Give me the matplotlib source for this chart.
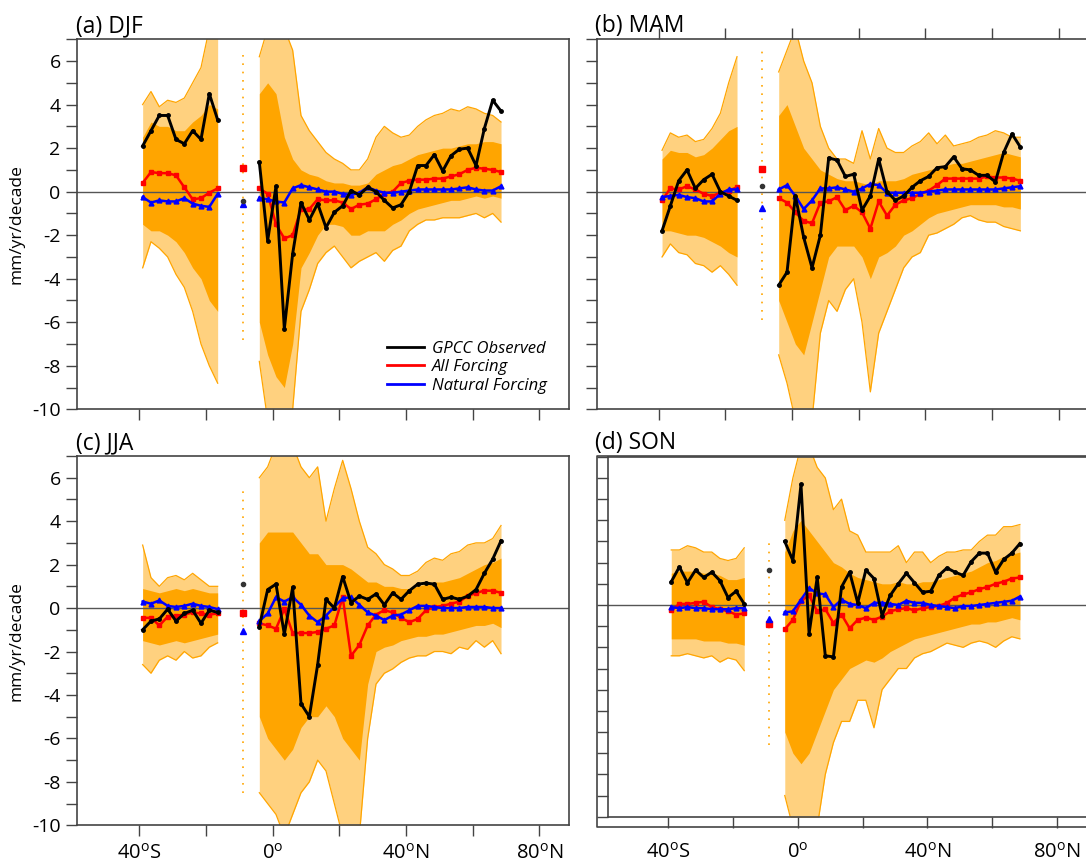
import matplotlib
matplotlib.use("Agg")
import matplotlib.pyplot as plt
from matplotlib.lines import Line2D

plt.rcParams['font.family'] = ['Open Sans', 'DejaVu Sans']
plt.rcParams['axes.unicode_minus'] = False
plt.rcParams['mathtext.default'] = 'regular'

# latitude bands (south block, north block) and the global-mean column
lat_south = [-39.0, -36.5, -34.0, -31.5, -29.0, -26.5, -24.0, -21.5, -19.0, -16.5]
lat_north = [-4.0, -1.5, 1.0, 3.5, 6.0, 8.5, 11.0, 13.5, 16.0, 18.5,
             21.0, 23.5, 26.0, 28.5, 31.0, 33.5, 36.0, 38.5, 41.0, 43.5,
             46.0, 48.5, 51.0, 53.5, 56.0, 58.5, 61.0, 63.5, 66.0, 68.5]
mid_lat = -9.0

panel_titles = ['(a) DJF', '(b) MAM', '(c) JJA', '(d) SON']
xtick_vals = [-40, -20, 0, 20, 40, 60, 80]
xtick_text = ['40$^{o}$S', '', '0$^{o}$', '', '40$^{o}$N', '', '80$^{o}$N']

# each list: 10 southern values followed by 30 northern values
gpcc_djf = [2.1, 2.8, 3.5, 3.5, 2.4, 2.2, 2.8, 2.4, 4.5, 3.3,
            1.35, -2.25, 0.25, -6.3, -2.85, -0.5, -1.3, -0.55, -1.65, -0.95,
            -0.65, 0.05, -0.15, 0.2, 0.0, -0.4, -0.75, -0.6, 0.0, 1.2,
            1.2, 1.7, 0.95, 1.65, 1.95, 2.0, 1.2, 2.9, 4.2, 3.7]
allf_djf = [0.4, 0.9, 0.85, 0.85, 0.75, 0.2, -0.35, -0.3, -0.05, 0.15,
            0.15, -0.1, -1.5, -2.15, -2.0, -0.8, -0.8, -0.35, -0.4, -0.4,
            -0.5, -0.8, -0.6, -0.55, -0.35, -0.1, 0.0, 0.4, 0.5, 0.55,
            0.55, 0.6, 0.6, 0.7, 0.8, 1.0, 1.1, 1.05, 1.0, 0.9]
natf_djf = [-0.25, -0.5, -0.4, -0.45, -0.45, -0.3, -0.55, -0.65, -0.7, -0.1,
            -0.3, -0.35, -0.45, -0.5, 0.15, 0.3, 0.2, 0.1, 0.0, 0.0,
            -0.1, -0.15, -0.05, 0.2, 0.05, -0.05, -0.05, 0.0, 0.05, 0.1,
            0.1, 0.1, 0.1, 0.1, 0.15, 0.2, 0.1, 0.05, 0.05, 0.25]
ens_max_djf = [4.0, 4.6, 3.9, 4.2, 4.1, 4.3, 5.0, 5.7, 7.5, 7.5,
               6.2, 7.5, 7.5, 7.5, 6.5, 3.5, 2.8, 2.3, 1.8, 1.5,
               1.3, 1.0, 1.0, 1.5, 2.5, 3.0, 2.7, 2.5, 2.6, 3.0,
               3.3, 3.5, 3.6, 3.8, 3.7, 3.9, 3.8, 3.6, 3.5, 3.2]
ens_hi_djf = [2.5, 3.2, 3.0, 3.0, 2.8, 2.8, 3.2, 3.5, 4.0, 3.8,
              4.5, 5.0, 4.5, 2.5, 1.5, 1.0, 0.8, 0.7, 0.5, 0.4,
              0.4, 0.3, 0.3, 0.4, 0.8, 1.0, 1.2, 1.3, 1.5, 1.7,
              1.8, 1.9, 2.0, 2.0, 2.1, 2.2, 2.2, 2.3, 2.3, 2.2]
ens_lo_djf = [-1.5, -1.8, -1.8, -2.0, -2.3, -2.8, -3.5, -4.0, -5.0, -5.5,
              -6.0, -7.5, -8.5, -9.0, -7.0, -3.5, -2.8, -2.0, -1.5, -1.5,
              -1.6, -2.0, -2.0, -1.8, -1.8, -1.8, -1.5, -1.3, -1.0, -0.8,
              -0.7, -0.6, -0.5, -0.4, -0.4, -0.3, -0.2, -0.3, -0.2, -0.3]
ens_min_djf = [-3.5, -2.3, -2.6, -3.0, -3.8, -4.4, -5.5, -7.0, -8.0, -8.8,
               -7.8, -10.5, -10.5, -10.5, -10.0, -5.5, -4.5, -3.3, -2.8, -2.5,
               -3.0, -3.5, -3.2, -3.0, -2.8, -3.2, -2.7, -2.5, -1.8, -1.5,
               -1.3, -1.3, -1.2, -1.2, -1.2, -1.1, -1.0, -1.2, -1.0, -1.4]

gpcc_mam = [-1.8, -0.65, 0.5, 1.0, 0.15, 0.55, 0.8, 0.0, -0.2, -0.4,
            -4.3, -3.7, -0.2, -2.1, -3.5, -2.0, 1.55, 1.45, 0.7, 0.8,
            -0.85, -0.2, 1.5, 0.0, -0.4, -0.2, 0.2, 0.5, 0.7, 1.1,
            1.15, 1.6, 1.05, 1.0, 0.75, 0.75, 0.45, 1.8, 2.65, 2.05]
allf_mam = [-0.4, 0.15, 0.1, 0.25, 0.1, -0.1, -0.2, -0.05, 0.05, 0.2,
            -0.3, -0.5, -0.95, -1.35, -1.45, -0.5, -0.45, -0.25, -0.85, -0.65,
            -0.95, -1.7, -0.45, -1.1, -0.6, -0.4, -0.3, -0.1, 0.05, 0.3,
            0.6, 0.6, 0.6, 0.6, 0.6, 0.7, 0.65, 0.65, 0.6, 0.5]
natf_mam = [-0.25, -0.2, -0.15, -0.25, -0.3, -0.45, -0.45, -0.1, 0.1, 0.1,
            0.1, 0.3, -0.2, -0.8, -0.4, 0.15, 0.15, 0.2, 0.1, 0.0,
            0.15, 0.35, 0.3, -0.05, -0.05, -0.05, -0.05, -0.05, 0.0, 0.05,
            0.1, 0.1, 0.1, 0.1, 0.1, 0.1, 0.1, 0.15, 0.2, 0.25]
ens_max_mam = [1.9, 2.7, 2.5, 2.6, 2.3, 2.4, 2.9, 3.6, 5.0, 6.2,
               5.5, 6.5, 7.5, 6.0, 5.0, 3.0, 2.0, 1.5, 1.5, 1.3,
               2.8, 1.5, 2.9, 2.0, 1.8, 1.8, 2.1, 2.3, 2.7, 2.2,
               2.6, 2.1, 2.2, 2.3, 2.5, 2.6, 2.8, 2.7, 2.5, 2.5]
ens_hi_mam = [1.5, 1.9, 1.8, 1.8, 1.6, 1.7, 2.0, 2.4, 2.8, 3.0,
              3.5, 4.0, 3.0, 2.0, 1.5, 1.0, 0.8, 0.6, 0.5, 0.5,
              0.4, 0.3, 0.5, 0.5, 0.5, 0.6, 0.8, 0.9, 1.0, 1.1,
              1.2, 1.3, 1.3, 1.4, 1.5, 1.6, 1.7, 1.8, 1.7, 1.6]
ens_lo_mam = [-1.8, -1.8, -1.9, -2.0, -2.0, -2.1, -2.3, -2.5, -2.8, -3.0,
              -5.0, -6.0, -7.0, -7.5, -6.0, -4.5, -3.0, -2.5, -2.5, -2.5,
              -3.0, -4.0, -3.0, -2.8, -2.5, -2.0, -1.8, -1.5, -1.2, -1.0,
              -0.9, -0.8, -0.7, -0.6, -0.6, -0.6, -0.6, -0.7, -0.7, -0.8]
ens_min_mam = [-3.0, -2.4, -2.8, -2.9, -3.3, -3.4, -3.7, -3.4, -3.8, -4.3,
               -7.5, -8.8, -10.5, -10.5, -10.5, -6.5, -5.0, -5.5, -4.5, -4.0,
               -6.0, -9.2, -6.5, -5.5, -4.5, -3.5, -3.0, -2.8, -2.0, -1.9,
               -1.7, -1.5, -1.2, -1.1, -1.3, -1.4, -1.4, -1.6, -1.7, -1.8]

gpcc_jja = [-1.0, -0.6, -0.5, -0.05, -0.6, -0.25, -0.1, -0.7, -0.1, -0.2,
            -0.85, 0.85, 1.1, -1.2, 0.95, -4.4, -5.0, -2.6, 0.4, 0.0,
            1.45, 0.25, 0.55, 0.4, 0.65, 0.15, 0.7, 0.4, 0.8, 1.1,
            1.15, 1.1, 0.4, 0.5, 0.4, 0.55, 0.85, 1.6, 2.25, 3.1]
allf_jja = [-0.45, -0.45, -0.8, -0.4, -0.35, -0.3, -0.2, -0.25, -0.3, -0.25,
            -0.7, -0.8, -0.95, -0.05, -1.15, -1.15, -1.15, -1.1, -0.95, -0.8,
            0.5, -2.2, -1.7, -0.8, -0.3, -0.1, -0.2, -0.45, -0.65, -0.5,
            -0.1, 0.05, 0.1, 0.2, 0.3, 0.55, 0.7, 0.8, 0.8, 0.7]
natf_jja = [0.3, 0.2, 0.35, 0.1, 0.05, 0.1, 0.2, 0.1, 0.05, -0.05,
            -0.6, -0.25, 0.5, 0.3, 0.5, 0.15, -0.35, -0.65, -0.35, 0.05,
            0.45, 0.5, 0.15, -0.2, -0.35, -0.55, -0.35, -0.3, -0.1, 0.1,
            0.1, 0.05, 0.0, 0.0, 0.0, 0.05, 0.05, 0.05, 0.0, 0.0]
ens_max_jja = [2.9, 1.4, 1.0, 1.4, 1.5, 1.3, 1.6, 1.3, 1.0, 1.0,
               6.0, 6.5, 7.5, 7.5, 7.5, 6.5, 6.0, 6.5, 4.0, 5.5,
               6.8, 5.5, 4.0, 2.8, 2.5, 2.0, 1.8, 1.5, 1.5, 1.7,
               2.1, 2.3, 2.2, 2.5, 2.6, 2.9, 3.0, 3.0, 3.2, 3.8]
ens_hi_jja = [0.9, 0.8, 0.7, 0.8, 0.9, 0.8, 0.9, 0.8, 0.7, 0.7,
              3.0, 3.5, 3.5, 3.5, 3.5, 3.0, 2.5, 2.5, 2.0, 2.0,
              2.0, 1.8, 1.5, 1.2, 1.2, 1.0, 1.0, 0.9, 0.9, 1.0,
              1.1, 1.2, 1.2, 1.3, 1.4, 1.6, 1.8, 2.0, 2.1, 2.3]
ens_lo_jja = [-1.5, -1.6, -1.7, -1.6, -1.5, -1.6, -1.5, -1.4, -1.3, -1.2,
              -5.0, -6.0, -6.5, -7.0, -6.5, -5.5, -5.0, -5.0, -4.5, -5.0,
              -6.0, -6.5, -7.0, -3.5, -2.0, -1.8, -1.7, -1.5, -1.4, -1.3,
              -1.3, -1.2, -1.2, -1.1, -1.0, -0.9, -0.8, -0.8, -0.7, -0.9]
ens_min_jja = [-2.6, -3.0, -2.4, -2.2, -2.4, -2.0, -2.3, -2.2, -1.8, -1.6,
               -8.5, -9.0, -9.5, -10.5, -9.5, -8.5, -8.0, -7.0, -7.5, -9.0,
               -10.5, -10.5, -10.5, -6.0, -3.5, -3.0, -2.8, -2.5, -2.3, -2.2,
               -2.2, -2.0, -2.0, -2.1, -1.8, -1.9, -1.5, -1.8, -1.5, -2.1]

gpcc_son = [1.1, 1.8, 1.05, 1.65, 1.3, 1.55, 1.15, 0.35, 0.65, 0.05,
            3.0, 2.1, 5.7, -1.35, 1.3, -2.4, -2.45, 0.85, 1.55, 0.1,
            1.65, 1.25, -0.5, 0.45, 1.0, 1.5, 1.05, 0.6, 0.65, 1.4,
            1.75, 1.55, 1.4, 2.05, 2.45, 2.45, 1.55, 2.15, 2.45, 2.9]
allf_son = [-0.25, 0.05, 0.05, 0.1, 0.15, -0.1, -0.2, -0.3, -0.45, -0.4,
            -1.15, -0.7, 0.2, 0.45, -0.3, -0.2, -0.85, -0.45, -1.1, -0.7,
            -0.6, -0.7, -0.55, -0.3, -0.2, -0.15, -0.25, -0.15, -0.1, -0.05,
            0.1, 0.35, 0.5, 0.6, 0.75, 0.85, 1.0, 1.1, 1.25, 1.3]
natf_son = [-0.1, -0.15, -0.1, -0.15, -0.15, -0.2, -0.2, -0.2, -0.15, -0.15,
            -0.35, -0.3, 0.25, 0.8, 0.55, 0.5, -0.1, 0.25, 0.05, 0.0,
            -0.15, 0.1, 0.1, 0.05, 0.0, 0.2, 0.1, 0.1, 0.0, -0.05,
            -0.1, -0.15, -0.05, -0.05, 0.0, 0.05, 0.1, 0.15, 0.2, 0.4]
ens_max_son = [2.6, 2.6, 2.8, 2.7, 2.5, 2.5, 2.2, 2.1, 2.2, 2.7,
               4.0, 6.0, 7.5, 7.5, 6.5, 6.0, 4.5, 5.0, 3.5, 3.3,
               2.5, 2.5, 2.5, 2.5, 2.8, 2.0, 2.5, 2.5, 2.0, 2.3,
               2.5, 2.5, 2.6, 2.6, 3.0, 3.3, 3.3, 3.7, 3.7, 3.8]
ens_hi_son = [1.5, 1.6, 1.6, 1.6, 1.5, 1.5, 1.4, 1.2, 1.2, 1.3,
              2.5, 3.5, 4.0, 3.5, 3.0, 2.5, 2.0, 1.8, 1.5, 1.3,
              1.2, 1.1, 1.0, 1.0, 1.1, 1.0, 1.0, 1.1, 1.1, 1.2,
              1.3, 1.4, 1.5, 1.6, 1.8, 2.0, 2.1, 2.3, 2.4, 2.5]
ens_lo_son = [-1.6, -1.6, -1.6, -1.6, -1.7, -1.7, -1.7, -1.8, -1.8, -1.9,
              -6.0, -7.0, -7.5, -7.0, -6.0, -5.0, -4.0, -3.5, -3.0, -2.8,
              -2.6, -2.7, -2.5, -2.2, -2.0, -1.8, -1.6, -1.5, -1.4, -1.3,
              -1.2, -1.1, -1.0, -0.9, -0.9, -0.8, -0.8, -0.7, -0.6, -0.7]
ens_min_son = [-2.4, -2.4, -2.3, -2.4, -2.5, -2.4, -2.7, -2.5, -2.6, -3.1,
               -9.0, -10.5, -10.5, -10.5, -10.5, -8.0, -6.5, -5.5, -5.5, -4.5,
               -4.5, -5.8, -4.0, -3.5, -3.0, -3.0, -2.5, -2.3, -2.2, -2.0,
               -1.8, -1.9, -2.0, -1.8, -1.7, -1.8, -2.0, -1.7, -1.5, -1.6]

# global-mean column (DJF, MAM, JJA, SON)
gpcc_mid = [-0.45, 0.28, 1.1, 1.65]
allf_mid = [1.1, 1.05, -0.25, -0.88]
natf_mid = [-0.55, -0.77, -1.07, -0.68]
ens_mid_top = [6.4, 6.7, 5.5, 3.2]
ens_mid_bot = [-6.8, -5.9, -8.5, -6.6]

orange = '#FFA500'
W, H = 1086, 867


def px_rect(left, top, right, bottom):
    return [left / W, 1 - bottom / H, (right - left) / W, (bottom - top) / H]


fig = plt.figure(figsize=(W / 100, H / 100), dpi=100)

ax_a = fig.add_axes(px_rect(77.3, 39.3, 568.7, 409.3))
ax_b = fig.add_axes(px_rect(596.7, 39.3, 1088.0, 409.3))
ax_c = fig.add_axes(px_rect(77.3, 456.0, 568.7, 825.3))
ax_d = fig.add_axes(px_rect(607.7, 456.8, 1088.0, 816.7))
axes = [ax_a, ax_b, ax_c, ax_d]

# outer frame (left, top, bottom edges) around panel (d)
fx0, fx1 = 596.7 / W, 1.0
fy0, fy1 = 1 - 826.5 / H, 1 - 456.0 / H
fig.lines.append(Line2D([fx1, fx0, fx0, fx1], [fy1, fy1, fy0, fy0],
                        transform=fig.transFigure, color='#444444', lw=1.2))

panel_data = [
    (gpcc_djf, allf_djf, natf_djf, ens_max_djf, ens_hi_djf, ens_lo_djf, ens_min_djf),
    (gpcc_mam, allf_mam, natf_mam, ens_max_mam, ens_hi_mam, ens_lo_mam, ens_min_mam),
    (gpcc_jja, allf_jja, natf_jja, ens_max_jja, ens_hi_jja, ens_lo_jja, ens_min_jja),
    (gpcc_son, allf_son, natf_son, ens_max_son, ens_hi_son, ens_lo_son, ens_min_son),
]

for i, ax in enumerate(axes):
    gpcc, allf, natf, emax, ehi, elo, emin = panel_data[i]
    for lats, sl in [(lat_south, slice(0, 10)), (lat_north, slice(10, 40))]:
        ax.fill_between(lats, emin[sl], emax[sl], color=orange, alpha=0.5, lw=0, zorder=1)
        ax.fill_between(lats, elo[sl], ehi[sl], color=orange, lw=0, zorder=1)
        ax.plot(lats, emax[sl], color=orange, lw=0.9, zorder=1)
        ax.plot(lats, emin[sl], color=orange, lw=0.9, zorder=1)
        ax.plot(lats, allf[sl], color='red', lw=1.8, marker='s', ms=3.5, zorder=3)
        ax.plot(lats, natf[sl], color='blue', lw=1.8, marker='^', ms=3.5, zorder=4)
        ax.plot(lats, gpcc[sl], color='black', lw=2.1, marker='o', ms=2.5, zorder=5)

    ax.plot([mid_lat, mid_lat], [ens_mid_bot[i], ens_mid_top[i]], color=orange,
            lw=1.2, ls=(0, (1, 4)), zorder=1)
    ax.plot([mid_lat], [allf_mid[i]], color='red', marker='s', ms=4, zorder=3)
    ax.plot([mid_lat], [natf_mid[i]], color='blue', marker='^', ms=4, zorder=4)
    ax.plot([mid_lat], [gpcc_mid[i]], color='#333333', marker='o', ms=3, zorder=5)

    ax.axhline(0, color='#555555', lw=1.0, zorder=2)

    ax.set_xlim(-58.6, 88.8 if i != 3 else 89.5)
    ax.set_ylim(-10, 7)
    ax.set_xticks(xtick_vals)
    ax.set_yticks(range(-10, 8))
    for sp in ax.spines.values():
        sp.set_color('#444444')
        sp.set_linewidth(1.2)
    if i in (1, 3):
        ax.spines['right'].set_visible(False)
    ax.tick_params(axis='both', direction='out', length=8, width=1.0,
                   color='#444444', labelsize=14, pad=4)
    if i in (0, 2):
        ax.set_yticklabels([str(v) if v % 2 == 0 else '' for v in range(-10, 8)])
        ax.set_ylabel('mm/yr/decade', fontsize=12.5)
        ax.yaxis.set_label_coords(-0.108, 0.5)
    else:
        ax.set_yticklabels([])
    if i in (2, 3):
        ax.set_xticklabels(xtick_text, fontsize=14.5)
        ax.tick_params(axis='x', pad=11 if i == 3 else 5)
    else:
        ax.set_xticklabels([])
    if i == 1:
        ax.tick_params(axis='x', top=True)

title_pos = [(76, 32), (595, 32), (76, 449), (595, 449)]
for (tx, ty), t in zip(title_pos, panel_titles):
    fig.text(tx / W, 1 - ty / H, t, fontsize=16.5, ha='left', va='baseline')

ax_a.plot([], [], color='black', lw=2.0, label='GPCC Observed')
ax_a.plot([], [], color='red', lw=2.0, label='All Forcing')
ax_a.plot([], [], color='blue', lw=2.0, label='Natural Forcing')
handles, labels = ax_a.get_legend_handles_labels()
ax_a.legend(handles[-3:], labels[-3:], loc='upper left', bbox_to_anchor=(0.6, 0.226),
            frameon=False, handlelength=2.2, handletextpad=0.5, labelspacing=0.15,
            prop={'style': 'italic', 'size': 12})

fig.savefig('out.png', dpi=100)
